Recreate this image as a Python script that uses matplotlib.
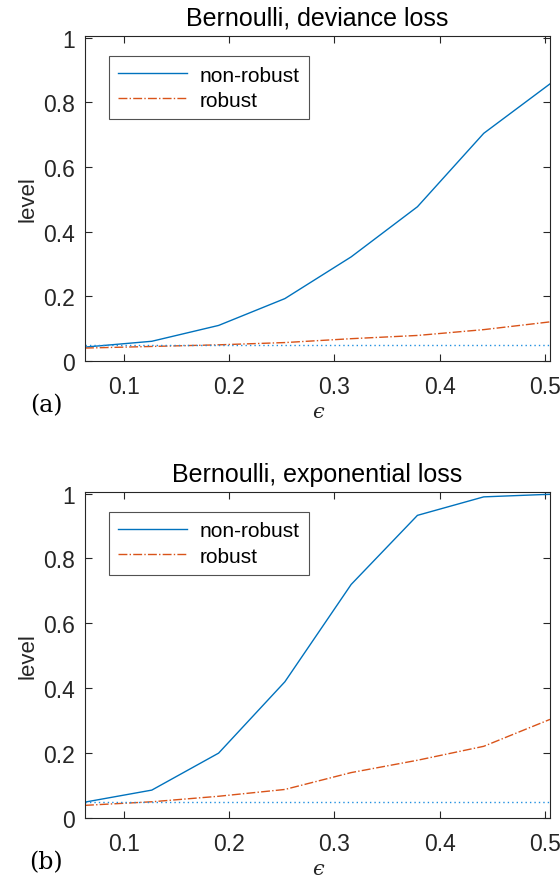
import numpy as np
import matplotlib
matplotlib.use("Agg")
import matplotlib.pyplot as plt
from matplotlib.ticker import FuncFormatter

eps = [0.063, 0.1265, 0.19, 0.253, 0.316, 0.379, 0.442, 0.505]

dev_nonrobust = [0.043, 0.061, 0.110, 0.193, 0.322, 0.477, 0.704, 0.857]
dev_robust = [0.040, 0.045, 0.050, 0.057, 0.069, 0.079, 0.097, 0.121]

exp_nonrobust = [0.049, 0.086, 0.200, 0.420, 0.720, 0.933, 0.990, 0.998]
exp_robust = [0.039, 0.050, 0.067, 0.088, 0.140, 0.178, 0.221, 0.304]

nominal = 0.05
titles = ["Bernoulli, deviance loss", "Bernoulli, exponential loss"]
panel_tags = ["(a)", "(b)"]

blue = "#0072BD"
orange = "#D95319"
dark = "#262626"

plt.rcParams["font.family"] = ["Liberation Sans", "DejaVu Sans"]

W, H = 560, 878
fig = plt.figure(figsize=(W / 100, H / 100), dpi=100)

# axes boxes in pixels: left, top, right, bottom
boxes = [(85, 37, 550, 362), (85, 493, 550, 819)]
data = [(dev_nonrobust, dev_robust), (exp_nonrobust, exp_robust)]
leg_top = [0.938, 0.939]


def fmt(v, pos):
    s = f"{v:.1f}"
    if s == "0.0":
        return "0"
    if s == "1.0":
        return "1"
    return s


for i, (l, t, r, b) in enumerate(boxes):
    ax = fig.add_axes([l / W, 1 - b / H, (r - l) / W, (b - t) / H])
    nr, rb = data[i]
    ax.plot(eps, nr, color=blue, lw=1.0, label="non-robust")
    ax.plot(eps, rb, color=orange, lw=1.0, ls="-.", label="robust")
    ax.axhline(nominal, color="#1F8FE0", lw=1.0, ls=":", dashes=(1, 2.2))
    ax.set_xlim(eps[0], eps[-1])
    ax.set_ylim(0, 1.005)
    ax.set_xticks([0.1, 0.2, 0.3, 0.4, 0.5])
    ax.set_yticks([0, 0.2, 0.4, 0.6, 0.8, 1.0])
    ax.yaxis.set_major_formatter(FuncFormatter(fmt))
    ax.tick_params(direction="in", top=True, right=True, length=5,
                   labelsize=16.5, colors=dark, width=0.8, pad=7.5)
    ax.tick_params(axis="x", pad=10)
    for sp in ax.spines.values():
        sp.set_color(dark)
        sp.set_linewidth(0.8)
    ax.set_title(titles[i], fontsize=18, color="black", pad=8)
    ax.set_ylabel("level", fontsize=16, color=dark, labelpad=3)
    leg = ax.legend(loc="upper left", bbox_to_anchor=(0.0516, leg_top[i]),
                    borderaxespad=0, fontsize=15, frameon=True, fancybox=False,
                    edgecolor=dark, handlelength=3.3, borderpad=0.45,
                    labelspacing=0.3, handletextpad=0.6)
    leg.get_frame().set_linewidth(0.8)
    fig.text(46 / W, 1 - (b + 44) / H, panel_tags[i], fontsize=17,
             family=["DejaVu Serif"], color="black", ha="center", va="center")
    fig.text(318 / W, 1 - (b + 51) / H, "\u03f5", fontsize=15,
             family=["DejaVu Serif"], style="italic", color=dark,
             ha="center", va="center")

fig.savefig("out.png", dpi=100)
